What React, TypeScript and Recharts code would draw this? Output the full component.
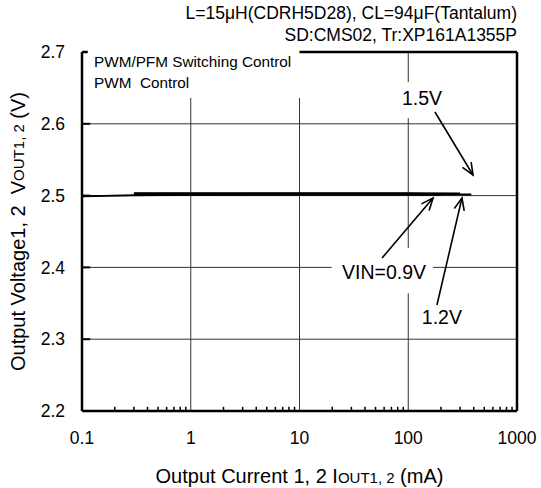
import { LineChart, Line, XAxis, YAxis, ReferenceLine, ReferenceDot } from "recharts";

// axis ticks
const X_TICKS = [0.1, 1, 10, 100, 1000];
const X_MINOR = [
  0.2, 0.3, 0.4, 0.5, 0.6, 0.7, 0.8, 0.9,
  2, 3, 4, 5, 6, 7, 8, 9,
  20, 30, 40, 50, 60, 70, 80, 90,
  200, 300, 400, 500, 600, 700, 800, 900,
];
const Y_TICKS = [2.2, 2.3, 2.4, 2.5, 2.6, 2.7];
const Y_INNER_TICKS = [2.3, 2.4, 2.5, 2.6];

// measured curves (VIN = 0.9V / 1.2V / 1.5V)
const IOUT_09 = [0.3, 1, 10, 100, 200];
const VOUT_09 = [2.502, 2.502, 2.502, 2.502, 2.5015];
const IOUT_12 = [0.3, 1, 10, 100, 300];
const VOUT_12 = [2.503, 2.503, 2.503, 2.503, 2.5025];
const IOUT_15 = [0.1, 0.3, 1, 10, 100, 380];
const VOUT_15 = [2.499, 2.5005, 2.501, 2.5015, 2.5015, 2.5015];

// grid pieces, gaps where the text boxes sit
const H_GRID: [number, number, number][] = [
  [2.3, 0.1, 1000],
  [2.4, 0.1, 19.8],
  [2.4, 169, 1000],
  [2.5, 0.1, 1000],
  [2.6, 0.1, 1000],
];
const V_GRID: [number, number, number][] = [
  [1, 2.2, 2.636],
  [10, 2.2, 2.636],
  [100, 2.2, 2.364],
  [100, 2.427, 2.608],
  [100, 2.658, 2.7],
];
const TOP_BORDER: [number, number][] = [
  [0.1, 0.113],
  [10, 1000],
];

// annotations
const ARROWS = [
  { from: [176, 2.6164], to: [394, 2.5287] },
  { from: [57.4, 2.413], to: [169, 2.4966] },
  { from: [183.6, 2.3476], to: [312, 2.4966] },
];
const CALLOUTS = [
  { x: 134, y: 2.6355, text: "1.5V" },
  { x: 60, y: 2.3935, text: "VIN=0.9V" },
  { x: 204, y: 2.3315, text: "1.2V" },
];
const BOX_LINES = [
  { x: 0.1, y: 2.686, text: "PWM/PFM Switching Control" },
  { x: 0.1, y: 2.6568, text: "PWM\u00a0 Control" },
];

const FONT = "'Liberation Sans', Arial, sans-serif";

const toPoints = (xs: number[], ys: number[]) => xs.map((x, i) => ({ x, y: ys[i] }));

function Arrow(props: any) {
  const { x1, y1, x2, y2 } = props;
  const a = Math.atan2(y2 - y1, x2 - x1);
  const len = 13;
  const spread = 0.4;
  const ax = x2 - len * Math.cos(a - spread);
  const ay = y2 - len * Math.sin(a - spread);
  const bx = x2 - len * Math.cos(a + spread);
  const by = y2 - len * Math.sin(a + spread);
  return (
    <g>
      <line x1={x1} y1={y1} x2={x2} y2={y2} stroke="#000" strokeWidth={1.6} />
      <polyline points={`${ax},${ay} ${x2},${y2} ${bx},${by}`} fill="none" stroke="#000" strokeWidth={1.6} />
    </g>
  );
}

function XLabel({ viewBox }: any) {
  const cx = viewBox.x + viewBox.width / 2;
  return (
    <text x={cx} y={viewBox.y + 72} textAnchor="middle" fontFamily={FONT} fontSize={20} fill="#000">
      Output Current 1, 2 I<tspan fontSize={15}>OUT1, 2</tspan> (mA)
    </text>
  );
}

function YLabel({ viewBox }: any) {
  const cx = viewBox.x + 18;
  const cy = viewBox.y + viewBox.height / 2;
  return (
    <text x={cx} y={cy} transform={`rotate(-90, ${cx}, ${cy})`} textAnchor="middle" dominantBaseline="central"
      fontFamily={FONT} fontSize={20} fill="#000">
      Output Voltage1, 2{"\u00a0 "}V<tspan fontSize={15}>OUT1, 2</tspan> (V)
    </text>
  );
}

export default function App() {
  const tickStyle = { fill: "#000", fontSize: 17.5, fontFamily: FONT };
  return (
    <div style={{ position: "absolute", left: 0, top: 0, width: 541, height: 488, background: "#fff" }}>
      <div style={{ position: "absolute", right: 24, top: 2, textAlign: "right", fontFamily: FONT, fontSize: 17.5, lineHeight: "22px", color: "#000", whiteSpace: "nowrap" }}>
        <div>L=15μH(CDRH5D28), CL=94μF(Tantalum)</div>
        <div>SD:CMS02, Tr:XP161A1355P</div>
      </div>
      <LineChart width={541} height={488} margin={{ top: 52, right: 24, bottom: 0, left: 0 }}>
        <XAxis
          dataKey="x"
          type="number"
          scale="log"
          domain={[0.1, 1000]}
          allowDataOverflow
          ticks={X_TICKS}
          tickFormatter={(v: number) => String(v)}
          tick={tickStyle}
          tickLine={false}
          tickSize={0}
          tickMargin={21}
          axisLine={{ stroke: "#000", strokeWidth: 2.5 }}
          height={77}
          interval={0}
          label={<XLabel />}
        />
        <YAxis
          type="number"
          domain={[2.2, 2.7]}
          allowDataOverflow
          ticks={Y_TICKS}
          tickFormatter={(v: number) => v.toFixed(1)}
          tick={tickStyle}
          tickLine={false}
          tickSize={0}
          tickMargin={17}
          axisLine={{ stroke: "#000", strokeWidth: 2.5 }}
          width={82}
          interval={0}
          label={<YLabel />}
        />

        {H_GRID.map(([y, a, b], i) => (
          <ReferenceLine key={"h" + i} segment={[{ x: a, y }, { x: b, y }]} stroke="#333" strokeWidth={1} />
        ))}
        {V_GRID.map(([x, a, b], i) => (
          <ReferenceLine key={"v" + i} segment={[{ x, y: a }, { x, y: b }]} stroke="#333" strokeWidth={1} />
        ))}
        {X_MINOR.map((x) => (
          <ReferenceLine key={"m" + x} segment={[{ x, y: 2.2 }, { x, y: 2.2058 }]} stroke="#000" strokeWidth={1.5} />
        ))}
        {Y_INNER_TICKS.map((y) => (
          <ReferenceLine key={"t" + y} segment={[{ x: 0.1, y }, { x: 0.119, y }]} stroke="#000" strokeWidth={2} />
        ))}
        {TOP_BORDER.map(([a, b], i) => (
          <ReferenceLine key={"b" + i} segment={[{ x: a, y: 2.7 }, { x: b, y: 2.7 }]} stroke="#000" strokeWidth={2.5} />
        ))}
        <ReferenceLine x={1000} stroke="#000" strokeWidth={2.5} />

        <Line data={toPoints(IOUT_09, VOUT_09)} dataKey="y" stroke="#000" strokeWidth={2.6} dot={false} isAnimationActive={false} />
        <Line data={toPoints(IOUT_12, VOUT_12)} dataKey="y" stroke="#000" strokeWidth={2.6} dot={false} isAnimationActive={false} />
        <Line data={toPoints(IOUT_15, VOUT_15)} dataKey="y" stroke="#000" strokeWidth={1.8} dot={false} isAnimationActive={false} />

        {ARROWS.map((a, i) => (
          <ReferenceLine
            key={"a" + i}
            segment={[{ x: a.from[0], y: a.from[1] }, { x: a.to[0], y: a.to[1] }]}
            shape={(p: any) => <Arrow {...p} />}
          />
        ))}
        {CALLOUTS.map((c) => (
          <ReferenceDot key={c.text} x={c.x} y={c.y} r={0} fill="none" stroke="none"
            label={{ value: c.text, position: "center", fill: "#000", fontSize: 19.5, fontFamily: FONT }} />
        ))}
        {BOX_LINES.map((c) => (
          <ReferenceDot key={c.text} x={c.x} y={c.y} r={0} fill="none" stroke="none"
            label={{ value: c.text, position: "right", offset: 12, fill: "#000", fontSize: 15.3, fontFamily: FONT }} />
        ))}
      </LineChart>
    </div>
  );
}
